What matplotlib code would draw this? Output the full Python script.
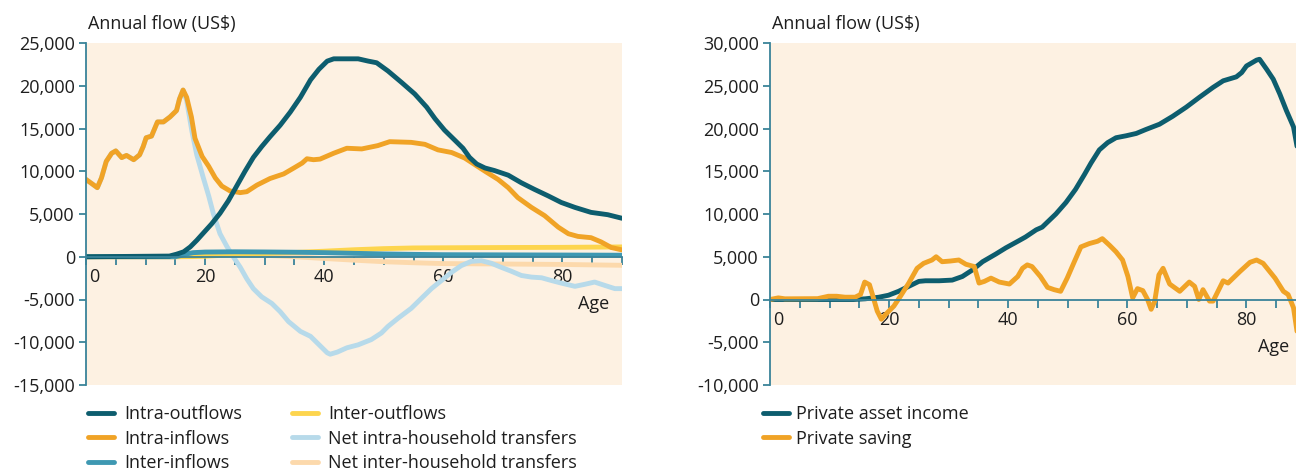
import matplotlib
matplotlib.use("Agg")
import matplotlib.pyplot as plt
from matplotlib.ticker import FixedLocator, FuncFormatter
import matplotlib.transforms as mtransforms

plt.rcParams['font.family'] = ['Open Sans', 'DejaVu Sans']

# ---------------- data: left panel (intra/inter household flows) ----------------
intra_out_age = [0, 14, 15.2, 16.4, 17.5, 18.6, 19.7, 21.1, 22.5, 23.9, 25.3, 26.7, 28.1,
                 29.5, 30.9, 32.6, 34.3, 36, 37.7, 39.1, 40.5, 41.6, 43.3, 45.7, 47.4, 48.8,
                 50.7, 53, 55.2, 57.2, 58.6, 60.2, 61.9, 63.3, 64.4, 65.6, 67, 68.6, 70.9,
                 73.1, 75.3, 77.6, 79.8, 82.1, 84.8, 87.6, 90]
intra_out_val = [0, 80, 300, 580, 1150, 1920, 2770, 3850, 5080, 6540, 8270, 10000, 11620,
                 12880, 14040, 15380, 16920, 18650, 20690, 21920, 22880, 23150, 23150, 23150,
                 22880, 22690, 21730, 20380, 19040, 17500, 16150, 14810, 13650, 12690, 11620,
                 10850, 10380, 10080, 9540, 8650, 7880, 7120, 6350, 5770, 5190, 4920, 4500]

intra_in_age = [0, 1, 1.9, 2.6, 3.4, 4.3, 5, 6, 6.8, 8, 9, 9.6, 10.1, 11, 12, 13, 14.1, 15.2,
                15.7, 16.3, 16.9, 17.7, 18.3, 19.5, 20.6, 21.7, 22.8, 24.2, 25.9, 27, 28.7,
                30.9, 33.2, 34.9, 36.3, 37.1, 38.2, 39.3, 41.6, 43.8, 46.3, 49, 51, 54.6,
                56.9, 59.1, 61.4, 63.6, 65.3, 67, 69.2, 70.9, 72.5, 74.8, 77, 79.3, 81, 82.6,
                84.8, 86.5, 88.2, 90]
intra_in_val = [9040, 8540, 8080, 9230, 11150, 12100, 12380, 11600, 11850, 11350, 11920,
                12880, 13920, 14110, 15770, 15770, 16350, 17100, 18460, 19500, 18650, 16350,
                13850, 11730, 10580, 9230, 8270, 7690, 7500, 7610, 8380, 9150, 9690, 10380,
                10960, 11460, 11350, 11420, 12110, 12690, 12610, 13000, 13460, 13380, 13150,
                12500, 12190, 11540, 10770, 10000, 9040, 8080, 6920, 5770, 4810, 3460, 2690,
                2380, 2230, 1730, 1080, 800]

inter_in_age = [0, 15, 16, 17, 18, 20, 25, 30, 35, 40, 45, 50, 55, 60, 70, 80, 90]
inter_in_val = [0, 0, 150, 350, 480, 550, 580, 560, 530, 480, 400, 330, 280, 240, 220, 200, 180]

inter_out_age = [0, 15, 18, 20, 25, 30, 35, 40, 45, 50, 55, 60, 70, 80, 90]
inter_out_val = [0, 0, 20, 60, 250, 380, 500, 650, 820, 950, 1030, 1050, 1080, 1100, 1150]

net_intra_age = [0, 1, 1.9, 2.6, 3.4, 4.3, 5, 6, 6.8, 8, 9, 9.6, 10.1, 11, 12, 13, 14.1, 15.2,
                 15.7, 16.3, 16.9, 17.8, 18.6, 19.7, 20.6, 21.4, 22.5, 23.7, 24.8, 25.9, 27,
                 28.1, 29.5, 31.2, 32.6, 34, 36, 37.7, 39.1, 40.5, 41, 42.2, 43.8, 45.7, 47.9,
                 49.6, 50.7, 52.4, 54.6, 56.3, 58, 59.7, 61.4, 63, 64.7, 66.4, 68.1, 69.7,
                 71.4, 73.1, 74.8, 76.5, 78.1, 79.8, 82.1, 83.7, 85.4, 87.1, 88.8, 90]
net_intra_val = [9040, 8540, 8080, 9230, 11150, 12100, 12380, 11600, 11850, 11350, 11920,
                 12880, 13920, 14110, 15770, 15770, 16350, 17100, 18460, 19500, 18270, 14620,
                 11920, 9230, 7120, 5000, 2690, 1150, -80, -1230, -2580, -3730, -4690, -5460,
                 -6420, -7580, -8730, -9310, -10270, -11230, -11400, -11150, -10650, -10300,
                 -9690, -8920, -8150, -7190, -6040, -4880, -3730, -2770, -1810, -1040, -540,
                 -460, -770, -1230, -1690, -2190, -2380, -2460, -2770, -3080, -3460, -3230,
                 -2960, -3350, -3730, -3730]

net_inter_age = [0, 15, 18, 20, 25, 30, 35, 40, 45, 50, 55, 60, 70, 80, 90]
net_inter_val = [0, 0, 350, 450, 320, 180, 0, -200, -400, -580, -700, -800, -850, -900, -1000]

# ---------------- data: right panel (private asset income and saving) ----------------
asset_age = [0, 14, 16, 18.3, 19.9, 21.6, 23.3, 25, 26.1, 28.4, 30.6, 32.3, 34, 35.7, 37.9,
             39.6, 41.9, 42.9, 44.7, 45.7, 48, 49.7, 51.3, 52.8, 53.9, 55.3, 56.7, 58.1,
             59.8, 61.5, 63.1, 65.4, 67.6, 69.9, 72.1, 74.4, 76.1, 78.3, 79.2, 80, 81.7,
             82.2, 83.4, 84.5, 85.6, 86.7, 87.9, 88.6, 90]
asset_val = [0, 0, 80, 270, 500, 960, 1540, 2120, 2190, 2190, 2270, 2690, 3460, 4420, 5310,
             6040, 6920, 7310, 8150, 8460, 10000, 11350, 12880, 14620, 15960, 17500, 18350,
             18920, 19150, 19420, 19880, 20500, 21420, 22500, 23650, 24810, 25580, 26040,
             26540, 27310, 28000, 28100, 26920, 25770, 24040, 22110, 20190, 17500, 14000]

saving_age = [0, 1.4, 2.5, 8, 9.8, 11.2, 12.6, 14.3, 15.2, 15.9, 16.7, 17.2, 18, 18.7, 19.7,
              20.8, 21.9, 23.3, 24.7, 25.8, 27.2, 27.9, 28.9, 30.3, 31.7, 32.9, 34.3, 35.1,
              36, 37.1, 38.5, 40.2, 41.6, 42.4, 43.2, 44, 45.4, 46.6, 47.7, 48.8, 49.9,
              51.1, 52.2, 53.6, 55, 55.8, 57, 58.1, 59.2, 60.1, 60.9, 61.7, 62.6, 63.4, 64,
              64.6, 65.3, 66, 67.1, 68.8, 70.4, 71.3, 72, 72.7, 73.8, 74.4, 76.1, 76.9,
              78.9, 80.6, 81.7, 82.8, 84.8, 86.2, 87, 87.9, 88.6, 89.3, 90]
saving_val = [0, 190, 80, 100, 380, 380, 270, 270, 580, 2040, 1730, 580, -1350, -2310,
              -1540, -770, 380, 1920, 3650, 4230, 4620, 5000, 4420, 4500, 4620, 4120, 3850,
              1920, 2120, 2500, 2040, 1810, 2690, 3650, 4050, 3850, 2690, 1420, 1150, 960,
              2500, 4420, 6150, 6540, 6810, 7120, 6350, 5580, 4620, 2690, 190, 1270, 1040,
              0, -1150, -190, 2880, 3650, 1810, 960, 2040, 1540, 0, 1150, -190, -190, 2190,
              1920, 3270, 4350, 4620, 4230, 2500, 960, 580, -960, -4230, -6000, -7500]

x_ticks = list(range(0, 91, 5))

# ---------------- styling ----------------
BG = "#FDF1E2"
AXIS = "#3A8399"
TEXT = "#1E1E1E"
DARK_TEAL = "#0D5D6E"
ORANGE = "#F0A326"
MID_TEAL = "#3E98B2"
YELLOW = "#FDD54E"
LIGHT_BLUE = "#B7DAEA"
PEACH = "#FCD9AC"
LW = 3.5
FS = 13

fig = plt.figure(figsize=(12.96, 4.70), dpi=100)
W, H = 1296.0, 470.0
ax1 = fig.add_axes([86 / W, 85 / H, 536 / W, 342 / H])
ax2 = fig.add_axes([770 / W, 85 / H, 536 / W, 342 / H])


def style_axes(ax, ylo, yhi):
    ax.set_facecolor(BG)
    ax.set_xlim(0, 90)
    ax.set_ylim(ylo, yhi)
    for s in ("top", "right"):
        ax.spines[s].set_visible(False)
    ax.spines["bottom"].set_position(("data", 0))
    for s in ("left", "bottom"):
        ax.spines[s].set_color(AXIS)
        ax.spines[s].set_linewidth(1.3)
        ax.spines[s].set_zorder(7)
    ax.xaxis.set_major_locator(FixedLocator(x_ticks))
    ax.xaxis.set_major_formatter(FuncFormatter(
        lambda v, p: str(int(v)) if int(v) % 20 == 0 and v < 90 else ""))
    ax.set_yticks(range(ylo, yhi + 1, 5000))
    ax.yaxis.set_major_formatter(FuncFormatter(lambda v, p: f"{int(v):,}"))
    ax.tick_params(axis="x", direction="out", length=6, width=1.3, color=AXIS,
                   labelsize=FS, labelcolor=TEXT, pad=2)
    ax.tick_params(axis="y", direction="out", length=5, width=1.3, color=AXIS,
                   labelsize=FS, labelcolor=TEXT, pad=3)
    # shift the "0" age label off the vertical axis
    for lab in ax.get_xticklabels():
        if lab.get_text() == "0":
            lab.set_transform(lab.get_transform() +
                              mtransforms.ScaledTranslation(8 / 100, 0, fig.dpi_scale_trans))
    ax.text(0.003, 1.057, "Annual flow (US$)", transform=ax.transAxes, ha="left",
            va="center", fontsize=FS, color=TEXT)


def line(ax, x, y, color, z, label):
    return ax.plot(x, y, color=color, lw=LW, zorder=z, label=label,
                   solid_capstyle="round", solid_joinstyle="round")[0]


# left panel
style_axes(ax1, -15000, 25000)
h_net_inter = line(ax1, net_inter_age, net_inter_val, PEACH, 2, "Net inter-household transfers")
h_net_intra = line(ax1, net_intra_age, net_intra_val, LIGHT_BLUE, 3, "Net intra-household transfers")
h_inter_out = line(ax1, inter_out_age, inter_out_val, YELLOW, 4, "Inter-outflows")
h_inter_in = line(ax1, inter_in_age, inter_in_val, MID_TEAL, 5, "Inter-inflows")
h_intra_in = line(ax1, intra_in_age, intra_in_val, ORANGE, 6, "Intra-inflows")
h_intra_out = line(ax1, intra_out_age, intra_out_val, DARK_TEAL, 6.5, "Intra-outflows")
ax1.text(85.3, -5500, "Age", ha="center", va="center", fontsize=FS, color=TEXT)

# right panel
style_axes(ax2, -10000, 30000)
h_asset = line(ax2, asset_age, asset_val, DARK_TEAL, 5, "Private asset income")
h_saving = line(ax2, saving_age, saving_val, ORANGE, 6, "Private saving")
ax2.text(84.6, -5500, "Age", ha="center", va="center", fontsize=FS, color=TEXT)

leg_kw = dict(frameon=False, loc="upper left", borderpad=0, borderaxespad=0,
              handlelength=1.45, handletextpad=0.55, labelspacing=0.36,
              fontsize=FS, labelcolor=TEXT)
left_handles = [h_intra_out, h_intra_in, h_inter_in, h_inter_out, h_net_intra, h_net_inter]
fig.legend(left_handles, [h.get_label() for h in left_handles],
           ncol=2, columnspacing=2.75, bbox_to_anchor=(88 / W, 1 - 405 / H), **leg_kw)
fig.legend([h_asset, h_saving], [h_asset.get_label(), h_saving.get_label()],
           bbox_to_anchor=(763 / W, 1 - 405 / H), handletextpad=0.4,
           **{k: v for k, v in leg_kw.items() if k != "handletextpad"})

fig.savefig("out.png", dpi=100)
